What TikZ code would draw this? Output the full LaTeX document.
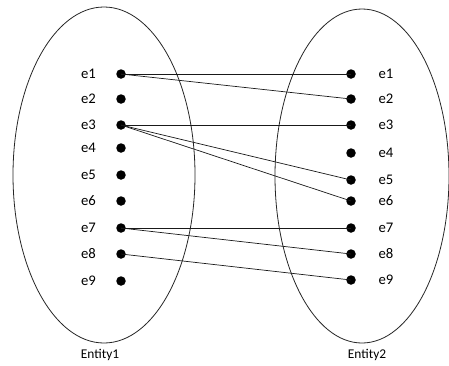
\documentclass[tikz,border=0pt]{standalone}
\usepackage{fontspec}
\setmainfont{Carlito}
\begin{document}
\begin{tikzpicture}[x=1pt,y=-1pt,
  setline/.style={draw=black!85,line width=0.8pt},
  elt/.style={circle,fill=black,inner sep=0pt,minimum width=8.5pt,minimum height=9.5pt},
  lbl/.style={font=\fontsize{14.7}{17}\selectfont,inner sep=0pt},
  setname/.style={font=\fontsize{13.4}{15}\selectfont,inner sep=0pt},
  link/.style={draw=black!90,line width=0.7pt}]
\useasboundingbox (0,0) rectangle (449,365);
\begin{scope}
\clip (0,0) rectangle (449,365);
% the two entity sets
\draw[setline] (104,175) ellipse [x radius=91,y radius=168];
\draw[setline] (362,176) ellipse [x radius=87,y radius=167];
\end{scope}
% left set elements
\foreach \i/\y in {1/74,2/99,3/125,4/148,5/175,6/201,7/228,8/254,9/281}{
  \node[elt] (a\i) at (121,\y) {};
  \node[lbl] (la\i) at (88.5,\y) {e\i};
}
% right set elements
\foreach \i/\y in {1/74,2/99,3/125,4/153,5/180,6/201,7/228,8/254,9/280}{
  \node[elt] (b\i) at (351,\y) {};
  \node[lbl] (lb\i) at (386,\y) {e\i};
}
\node[setname] (n1) at (100,355) {Entity1};
\node[setname] (n2) at (367,355) {Entity2};
% mapping
\draw[link] (a1.center) -- (b1.center);
\draw[link] (a1.center) -- (b2.center);
\draw[link] (a3.center) -- (b3.center);
\draw[link] (a3.center) -- (b5.center);
\draw[link] (a3.center) -- (b6.center);
\draw[link] (a7.center) -- (b7.center);
\draw[link] (a7.center) -- (b8.center);
\draw[link] (a8.center) -- (b9.center);
\end{tikzpicture}
\end{document}
